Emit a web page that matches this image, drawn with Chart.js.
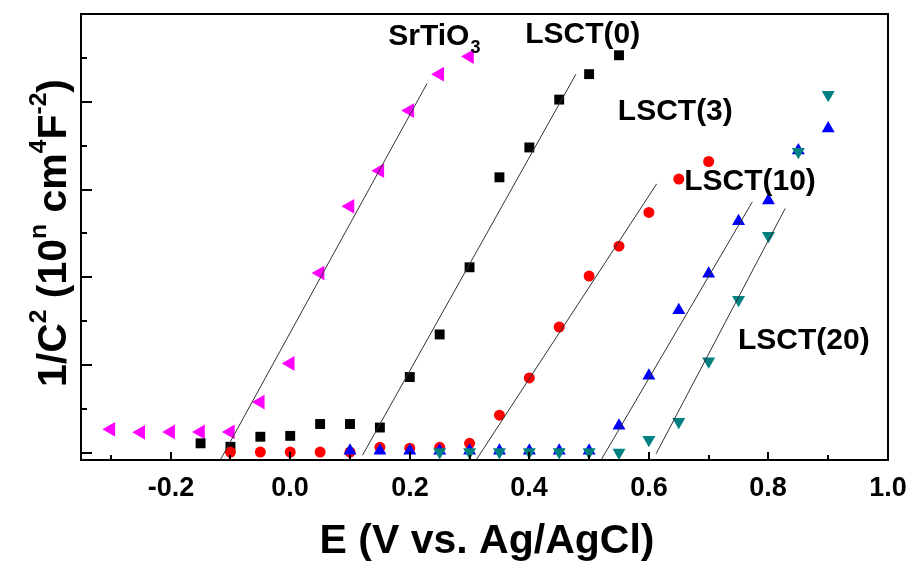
<!DOCTYPE html>
<html>
<head>
<meta charset="utf-8">
<script src="https://cdn.jsdelivr.net/npm/chart.js@4.4.1/dist/chart.umd.min.js"></script>
<style>
  html, body { margin:0; padding:0; background:#fff; }
</style>
</head>
<body>
<canvas id="chart" width="914" height="563"></canvas>
<script>
// Data titik (E dalam V vs Ag/AgCl, 1/C^2 dalam satuan sumbu)
const srtioX = [-0.30,-0.25,-0.20,-0.15,-0.10,-0.05,0.00,0.05,0.10,0.15,0.20,0.25,0.30];
const srtioY = [0.54,0.47,0.48,0.48,0.48,1.16,2.04,4.10,5.62,6.43,7.80,8.63,9.03];

const lsct0X = [-0.15,-0.10,-0.05,0.00,0.05,0.10,0.15,0.20,0.25,0.30,0.35,0.40,0.45,0.50,0.55];
const lsct0Y = [0.22,0.14,0.37,0.39,0.66,0.66,0.58,1.73,2.70,4.23,6.28,6.96,8.05,8.63,9.06];

const lsct3X = [-0.10,-0.05,0.00,0.05,0.10,0.15,0.20,0.25,0.30,0.35,0.40,0.45,0.50,0.55,0.60,0.65,0.70];
const lsct3Y = [0.02,0.02,0.02,0.02,0.02,0.13,0.11,0.13,0.22,0.86,1.71,2.87,4.03,4.71,5.48,6.24,6.64];

const lsct10X = [0.10,0.15,0.20,0.25,0.30,0.35,0.40,0.45,0.50,0.55,0.60,0.65,0.70,0.75,0.80,0.85,0.90];
const lsct10Y = [0.05,0.05,0.05,0.05,0.05,0.05,0.05,0.05,0.05,0.62,1.76,3.25,4.08,5.28,5.75,6.89,7.39];

const lsct20X = [0.25,0.30,0.35,0.40,0.45,0.50,0.55,0.60,0.65,0.70,0.75,0.80,0.85,0.90];
const lsct20Y = [0.02,0.02,0.02,0.02,0.02,0.02,0.01,0.30,0.71,2.09,3.49,4.95,6.86,8.16];

// Garis fitting (dua titik ujung)
const fitSrtio = [[-0.117,-0.16],[0.229,8.42]];
const fitLsct0 = [[0.121,-0.05],[0.478,8.63]];
const fitLsct3 = [[0.311,-0.16],[0.613,6.13]];
const fitLsct10 = [[0.520,-0.16],[0.773,5.72]];
const fitLsct20 = [[0.612,-0.02],[0.828,5.57]];

// Label seri
const seriesLabels = ['SrTiO', 'LSCT(0)', 'LSCT(3)', 'LSCT(10)', 'LSCT(20)'];
const labelSubs = ['3', '', '', '', ''];
const labelX = [0.164, 0.393, 0.548, 0.659, 0.749];
const labelY = [9.29, 9.34, 7.59, 5.99, 2.38];

const toPts = (xs, ys) => xs.map((x, i) => ({ x, y: ys[i] }));
const toLine = seg => seg.map(p => ({ x: p[0], y: p[1] }));

const FONT = '"Liberation Sans", Arial, sans-serif';

function fitLine(seg) {
  return { type:'line', data: toLine(seg), showLine:true, borderColor:'#333', borderWidth:1, pointRadius:0, order:0 };
}

function isMajorX(v) { return Math.abs(Math.round(v * 10)) % 2 === 0; }
function isMajorY(v) { return Math.round(v) % 2 === 0; }

// Gambar teks dengan superscript
const SUP = 0.6;
function drawRich(ctx, parts, size) {
  let x = 0;
  parts.forEach(p => {
    ctx.font = 'bold ' + (p.sup ? size * SUP : size) + 'px ' + FONT;
    ctx.fillText(p.t, x, p.sup ? -size * 0.5 : 0);
    x += ctx.measureText(p.t).width;
  });
}
function richWidth(ctx, parts, size) {
  let w = 0;
  parts.forEach(p => {
    ctx.font = 'bold ' + (p.sup ? size * SUP : size) + 'px ' + FONT;
    w += ctx.measureText(p.t).width;
  });
  return w;
}

const decor = {
  id: 'decor',
  afterDraw(chart) {
    const { ctx, chartArea: a, scales: { x, y } } = chart;
    ctx.save();
    ctx.strokeStyle = '#000';
    ctx.fillStyle = '#000';
    ctx.lineWidth = 2;
    // tick ke dalam + label sumbu x
    ctx.font = 'bold 27px ' + FONT;
    ctx.textAlign = 'center';
    ctx.textBaseline = 'alphabetic';
    x.ticks.forEach(t => {
      const px = Math.round(x.getPixelForValue(t.value));
      const major = isMajorX(t.value);
      ctx.beginPath(); ctx.moveTo(px, a.bottom); ctx.lineTo(px, a.bottom - (major ? 8 : 5)); ctx.stroke();
      if (major) ctx.fillText(t.value.toFixed(1), px, a.bottom + 36);
    });
    y.ticks.forEach(t => {
      if (t.value > 9.5) return;
      const py = Math.round(y.getPixelForValue(t.value));
      const len = isMajorY(t.value) ? 11 : 6;
      ctx.beginPath(); ctx.moveTo(a.left, py); ctx.lineTo(a.left + len, py); ctx.stroke();
    });
    ctx.strokeRect(a.left, a.top, a.right - a.left, a.bottom - a.top);

    // label seri
    ctx.textAlign = 'left';
    seriesLabels.forEach((txt, i) => {
      const px = x.getPixelForValue(labelX[i]);
      const py = y.getPixelForValue(labelY[i]);
      ctx.font = 'bold 30px ' + FONT;
      ctx.fillText(txt, px, py);
      if (labelSubs[i]) {
        const w = ctx.measureText(txt).width;
        ctx.font = 'bold 18px ' + FONT;
        ctx.fillText(labelSubs[i], px + w + 1, py + 8);
      }
    });

    // judul sumbu x
    ctx.font = 'bold 41px ' + FONT;
    ctx.textAlign = 'center';
    ctx.fillText('E (V vs. Ag/AgCl)', 487, 553);

    // judul sumbu y
    const parts = [
      { t:'1/C' }, { t:'2', sup:true }, { t:' (10' }, { t:'n', sup:true },
      { t:' cm' }, { t:'4', sup:true }, { t:'F' }, { t:'-2', sup:true }, { t:')' }
    ];
    ctx.textAlign = 'left';
    const size = 41;
    const w = richWidth(ctx, parts, size);
    ctx.translate(66, 233);
    ctx.rotate(-Math.PI / 2);
    ctx.translate(-w / 2, 0);
    drawRich(ctx, parts, size);
    ctx.restore();
  }
};

new Chart(document.getElementById('chart'), {
  type: 'scatter',
  data: {
    datasets: [
      fitLine(fitSrtio), fitLine(fitLsct0), fitLine(fitLsct3), fitLine(fitLsct10), fitLine(fitLsct20),
      { label:'LSCT(20)', data: toPts(lsct20X, lsct20Y), pointStyle:'triangle', rotation:180, pointRadius:7.5,
        backgroundColor:'#008080', borderColor:'#008080', borderWidth:0, order:1 },
      { label:'LSCT(10)', data: toPts(lsct10X, lsct10Y), pointStyle:'triangle', pointRadius:7.5,
        backgroundColor:'#0000FF', borderColor:'#0000FF', borderWidth:0, order:2 },
      { label:'LSCT(3)', data: toPts(lsct3X, lsct3Y), pointStyle:'circle', pointRadius:5.5,
        backgroundColor:'#FF0000', borderColor:'#FF0000', borderWidth:0, order:3 },
      { label:'LSCT(0)', data: toPts(lsct0X, lsct0Y), pointStyle:'rect', pointRadius:7,
        backgroundColor:'#000000', borderColor:'#000000', borderWidth:0, order:4 },
      { label:'SrTiO3', data: toPts(srtioX, srtioY), pointStyle:'triangle', rotation:-90, pointRadius:8.5,
        backgroundColor:'#FF00FF', borderColor:'#FF00FF', borderWidth:0, order:5 }
    ]
  },
  options: {
    responsive: false,
    animation: false,
    layout: { padding: { left:81, right:26, top:14, bottom:103 } },
    plugins: { legend: { display:false }, tooltip: { enabled:false } },
    scales: {
      x: {
        type:'linear', min:-0.35, max:1.0,
        grid: { display:false, drawTicks:false },
        border: { display:false },
        ticks: { stepSize:0.1, includeBounds:false, display:false },
        afterFit: s => { s.height = 0; }
      },
      y: {
        type:'linear', min:-0.16, max:10,
        grid: { display:false, drawTicks:false },
        border: { display:false },
        ticks: { stepSize:1, includeBounds:false, display:false },
        afterFit: s => { s.width = 0; }
      }
    }
  },
  plugins: [decor]
});
</script>
</body>
</html>
